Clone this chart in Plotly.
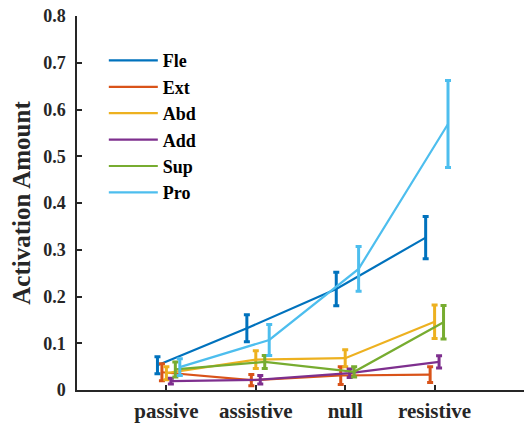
import plotly.graph_objects as go

categories = ["passive", "assistive", "null", "resistive"]
series_names = ["Fle", "Ext", "Abd", "Add", "Sup", "Pro"]

fle_mean = [0.053, 0.132, 0.216, 0.326]
fle_err = [0.018, 0.029, 0.036, 0.045]
ext_mean = [0.038, 0.021, 0.031, 0.033]
ext_err = [0.018, 0.012, 0.019, 0.017]
abd_mean = [0.036, 0.065, 0.068, 0.146]
abd_err = [0.014, 0.019, 0.018, 0.036]
add_mean = [0.019, 0.022, 0.036, 0.060]
add_err = [0.006, 0.009, 0.009, 0.013]
sup_mean = [0.044, 0.060, 0.039, 0.145]
sup_err = [0.016, 0.014, 0.011, 0.036]
pro_mean = [0.049, 0.107, 0.259, 0.569]
pro_err = [0.018, 0.033, 0.048, 0.093]

y_ticks = [0, 0.1, 0.2, 0.3, 0.4, 0.5, 0.6, 0.7, 0.8]
y_ticklabels = ["0", "0.1", "0.2", "0.3", "0.4", "0.5", "0.6", "0.7", "0.8"]

means = [fle_mean, ext_mean, abd_mean, add_mean, sup_mean, pro_mean]
errs = [fle_err, ext_err, abd_err, add_err, sup_err, pro_err]
colors = ["#0072BD", "#D95319", "#EDB120", "#7E2F8E", "#77AC30", "#4DBEEE"]
offsets = [-0.1, -0.05, 0.0, 0.05, 0.1, 0.15]

FONT = "Liberation Serif, Times New Roman, serif"
INK = "#262626"

fig = go.Figure()
base_x = list(range(1, len(categories) + 1))
for name, m, e, c, off in zip(series_names, means, errs, colors, offsets):
    fig.add_trace(go.Scatter(
        x=[b + off for b in base_x],
        y=m,
        name=name,
        mode="lines",
        line=dict(color=c, width=2.2),
        error_y=dict(type="data", array=e, visible=True, color=c,
                     thickness=3, width=3),
    ))

fig.update_layout(
    width=524, height=423,
    margin=dict(l=77, r=0, t=16, b=31),
    paper_bgcolor="white", plot_bgcolor="white",
    font=dict(family=FONT, color=INK),
    showlegend=True,
    legend=dict(
        x=0.06, y=0.93, xanchor="left", yanchor="top",
        bgcolor="rgba(0,0,0,0)", borderwidth=0,
        font=dict(family=FONT, size=18, color="black", weight="bold"),
        itemwidth=49, tracegroupgap=0,
    ),
    xaxis=dict(
        range=[0, 5], tickvals=base_x, ticktext=categories,
        showgrid=False, zeroline=False, showline=True, linecolor=INK,
        linewidth=1.5, ticks="inside", ticklen=5, tickwidth=1.5, tickcolor=INK,
        tickfont=dict(family=FONT, size=21, color=INK, weight="bold"),
        ticklabelstandoff=1,
    ),
    yaxis=dict(
        range=[0, 0.8], tickvals=y_ticks, ticktext=y_ticklabels,
        showgrid=False, zeroline=False, showline=True, linecolor=INK,
        linewidth=1.5, ticks="inside", ticklen=5, tickwidth=1.5, tickcolor=INK,
        tickfont=dict(family=FONT, size=18, color=INK, weight="bold"),
        ticklabelstandoff=6,
        title=dict(text="Activation Amount", standoff=5,
                   font=dict(family=FONT, size=25, color=INK, weight="bold")),
    ),
)

fig.write_html("out.html", config={"displayModeBar": False},
               post_script="document.body.style.margin='0';document.body.style.overflow='hidden';")
